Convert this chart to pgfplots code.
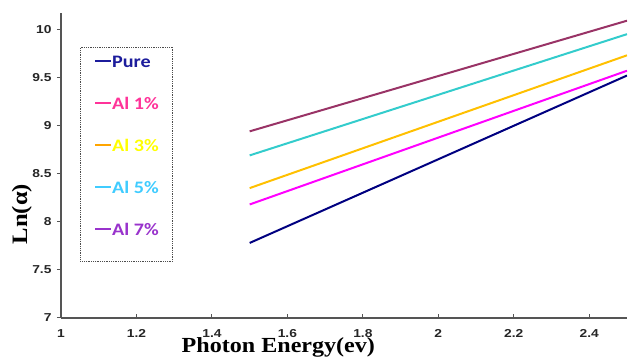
\documentclass[border=0pt]{standalone}
\usepackage{pgfplots}
\pgfplotsset{compat=1.18}
\usepackage{fontspec}
\setmainfont{Liberation Serif}
\newfontfamily\labelfont[FakeStretch=1.12]{Liberation Serif}
\newfontfamily\tickfont[FakeStretch=1.2]{Liberation Sans}
\newfontfamily\legfont[FakeStretch=1.15]{Carlito}
\definecolor{cpure}{HTML}{000080}
\definecolor{cone}{HTML}{FF00FF}
\definecolor{cthree}{HTML}{FFC000}
\definecolor{cfive}{HTML}{33CCCC}
\definecolor{cseven}{HTML}{993366}
\definecolor{lpure}{HTML}{1C1C9C}
\definecolor{lone}{HTML}{FF3399}
\definecolor{lthreel}{HTML}{FFA500}
\definecolor{lthreet}{HTML}{FFFF00}
\definecolor{lfive}{HTML}{40CCFF}
\definecolor{lseven}{HTML}{9933CC}
\definecolor{axgray}{HTML}{555555}
\begin{document}
\begin{tikzpicture}
\begin{axis}[
  scale only axis,
  width=566pt, height=305pt,
  xmin=1, xmax=2.5, ymin=7, ymax=10.17,
  axis x line=bottom, axis y line=left,
  axis line style={-, draw=axgray, line width=1.2pt},
  xtick={1,1.2,1.4,1.6,1.8,2,2.2,2.4},
  ytick={7,7.5,8,8.5,9,9.5,10},
  xtick style={draw=axgray, line width=1pt},
  ytick style={draw=axgray, line width=1pt},
  x tick label style={/pgf/number format/assume math mode=true, font=\tickfont\bfseries\fontsize{11.5}{13}\selectfont, text=black!85, yshift=-8pt},
  y tick label style={/pgf/number format/assume math mode=true, font=\tickfont\bfseries\fontsize{11.5}{13}\selectfont, text=black!85, xshift=-2pt},
  xtick pos=bottom, ytick pos=left,
  major tick length=4pt,
  xtick align=inside, ytick align=outside,
  xlabel={Photon Energy(ev)},
  ylabel={Ln(α)},
  xlabel style={font=\labelfont\bfseries\fontsize{21.5}{24}\selectfont, at={(axis description cs:0.384,0)}, anchor=base, yshift=-35pt},
  ylabel style={font=\labelfont\bfseries\fontsize{22}{24}\selectfont, at={(axis description cs:-0.069,0.341)}, anchor=center},
  legend style={at={(rel axis cs:0.0336,0.889)}, anchor=north west, draw=black!70, densely dotted, line width=0.8pt,
    inner xsep=14pt, inner ysep=8pt, row sep=12pt, font=\legfont\bfseries\fontsize{17.5}{19}\selectfont,
    nodes={inner sep=0pt, solid, text height=12pt, text depth=18pt}},
  legend cell align=left,
  legend image code/.code={\path[draw=none, fill=none] (0pt,0pt) -- (16pt,0pt); \draw[#1, solid, line width=1.8pt] (0pt,9pt) -- (16pt,9pt);},
]
\addplot[cpure, line width=2pt, forget plot] coordinates {(1.5,7.78) (2.5,9.52)};
\addplot[cone, line width=2pt, forget plot] coordinates {(1.5,8.18) (2.5,9.57)};
\addplot[cthree, line width=2pt, forget plot] coordinates {(1.5,8.35) (2.5,9.73)};
\addplot[cfive, line width=2pt, forget plot] coordinates {(1.5,8.69) (2.5,9.95)};
\addplot[cseven, line width=2pt, forget plot] coordinates {(1.5,8.94) (2.5,10.09)};
\addlegendimage{lpure}
\addlegendentry{\textcolor{lpure}{Pure}}
\addlegendimage{lone}
\addlegendentry{\textcolor{lone}{Al 1\%}}
\addlegendimage{lthreel}
\addlegendentry{\textcolor{lthreet}{Al 3\%}}
\addlegendimage{lfive}
\addlegendentry{\textcolor{lfive}{Al 5\%}}
\addlegendimage{lseven}
\addlegendentry{\textcolor{lseven}{Al 7\%}}
\end{axis}
\pgfresetboundingbox
\path[use as bounding box] ([shift={(-61pt,-40pt)}]current axis.south west) rectangle ([shift={(3pt,13pt)}]current axis.north east);
\end{tikzpicture}
\end{document}
